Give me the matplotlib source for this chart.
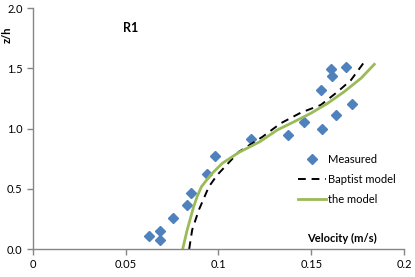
import matplotlib
matplotlib.use('Agg')
import matplotlib.pyplot as plt

plt.rcParams['font.family'] = ['Lato', 'DejaVu Sans']

# measured velocity profile
meas_v = [0.0623, 0.0685, 0.0685, 0.0753, 0.0829, 0.0852, 0.0937, 0.0982, 0.1177,
          0.1377, 0.1461, 0.1557, 0.1631, 0.1717, 0.1551, 0.1611, 0.1605, 0.169]
meas_z = [0.105, 0.152, 0.075, 0.26, 0.368, 0.465, 0.625, 0.772, 0.911,
          0.949, 1.054, 0.998, 1.112, 1.203, 1.320, 1.436, 1.494, 1.510]

# Baptist model
bap_v = [0.0842, 0.0858, 0.0894, 0.0948, 0.0993, 0.111, 0.1236, 0.1335, 0.1443,
         0.1551, 0.1642, 0.1714, 0.178]
bap_z = [0.0, 0.158, 0.324, 0.517, 0.614, 0.807, 0.93, 1.043, 1.131,
         1.195, 1.305, 1.402, 1.54]

# the model
mod_v = [0.0807, 0.0831, 0.0866, 0.0886, 0.0908, 0.0957, 0.102, 0.111, 0.1222,
         0.1317, 0.1407, 0.1497, 0.1588, 0.1677, 0.1768, 0.184]
mod_z = [0.0, 0.158, 0.351, 0.44, 0.517, 0.614, 0.711, 0.802, 0.89,
         0.988, 1.056, 1.126, 1.209, 1.305, 1.417, 1.533]

xticks = [0, 0.05, 0.1, 0.15, 0.2]
xlabels = ['0', '0.05', '0.1', '0.15', '0.2']
yticks = [0, 0.5, 1.0, 1.5, 2.0]
ylabels = ['0.0', '0.5', '1.0', '1.5', '2.0']

fig = plt.figure(figsize=(4.15, 2.77), dpi=100)
ax = fig.add_axes([0.0795, 0.101, 0.894, 0.870])

ax.plot(meas_v, meas_z, linestyle='none', marker='D', markersize=5,
        color='#4F81BD', label='Measured')
ax.plot(bap_v, bap_z, color='black', linestyle=(0, (4, 3)), linewidth=1.4,
        label='Baptist model')
ax.plot(mod_v, mod_z, color='#9BBB59', linewidth=2, label='the model')

ax.set_xlim(0, 0.2)
ax.set_ylim(0, 2.0)
ax.set_xticks(xticks)
ax.set_xticklabels(xlabels)
ax.set_yticks(yticks)
ax.set_yticklabels(ylabels)
ax.tick_params(labelsize=8, color='#868686', length=4, width=1)

for s in ['top', 'right']:
    ax.spines[s].set_visible(False)
for s in ['left', 'bottom']:
    ax.spines[s].set_color('#868686')
    ax.spines[s].set_linewidth(1)

fig.text(342 / 415, 1 - 238 / 277, 'Velocity (m/s)', fontsize=8, fontweight='bold',
         ha='center', va='center')
fig.text(7 / 415, 1 - 35 / 277, 'z/h', fontsize=8, fontweight='bold',
         rotation=90, ha='center', va='center')
fig.text(131 / 415, 1 - 28 / 277, 'R1', fontsize=9, fontweight='bold',
         ha='center', va='center')

ax.legend(loc='center left', bbox_to_anchor=(0.687, 0.29), frameon=False,
          fontsize=8, handlelength=2.5, handletextpad=0.2, labelspacing=0.8)

fig.savefig('out.png', dpi=100)
